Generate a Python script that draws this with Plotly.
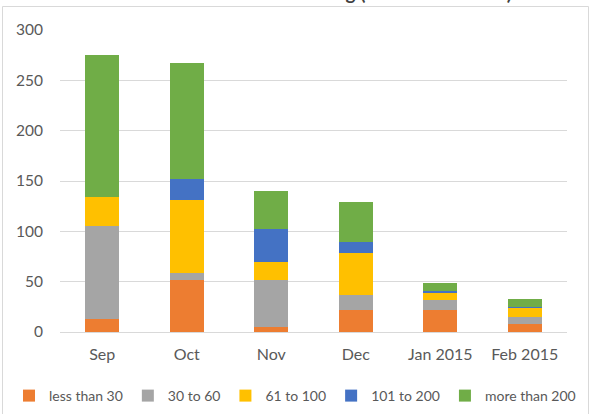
import plotly.graph_objects as go

months = ["Sep", "Oct", "Nov", "Dec", "Jan 2015", "Feb 2015"]
less_than_30 = [13, 52, 5, 22, 22, 8]
from_30_to_60 = [92, 7, 47, 15, 10, 7]
from_61_to_100 = [29, 72, 18, 41, 7, 9]
from_101_to_200 = [0, 21, 32, 11, 2, 1]
more_than_200 = [141, 115, 38, 40, 8, 8]

series = [
    ("less than 30", less_than_30, "#ED7D31"),
    ("30 to 60", from_30_to_60, "#A5A5A5"),
    ("61 to 100", from_61_to_100, "#FFC000"),
    ("101 to 200", from_101_to_200, "#4472C4"),
    ("more than 200", more_than_200, "#70AD47"),
]

FONT = "Lato"
TXT = "#595959"

fig = go.Figure()
for name, vals, col in series:
    fig.add_trace(go.Bar(x=months, y=vals, name=name, marker_color=col,
                         marker_line_width=0))

W, H = 589, 414
L, R, T, B = 60, 22, 30, 82
pw, ph = W - L - R, H - T - B

def px_x(p):
    return (p - L) / pw

def px_y(p):
    return (H - B - p) / ph

fig.update_layout(
    width=W, height=H,
    margin=dict(l=L, r=R, t=T, b=B, autoexpand=False),
    barmode="stack", bargap=0.6,
    plot_bgcolor="white", paper_bgcolor="white",
    font=dict(family=FONT, size=15, color=TXT),
    showlegend=True,
    legend=dict(orientation="h", x=px_x(9), xanchor="left",
                y=px_y(396), yanchor="middle",
                font=dict(size=14, color=TXT), traceorder="normal",
                itemwidth=30, tracegroupgap=0, borderwidth=0),
    xaxis=dict(showgrid=False, showline=False, zeroline=False, ticks="",
               tickfont=dict(size=16, color=TXT), ticklabelstandoff=11),
    yaxis=dict(range=[0, 300], tickvals=[0, 50, 100, 150, 200, 250, 300],
               showgrid=True, gridcolor="#D9D9D9", gridwidth=1,
               zeroline=True, zerolinecolor="#D9D9D9", zerolinewidth=1,
               showline=False, ticks="", ticklabelstandoff=16,
               tickfont=dict(size=15.5, color=TXT)),
    shapes=[dict(type="rect", xref="paper", yref="paper",
                 x0=px_x(2.5), x1=px_x(588.5), y0=px_y(418), y1=px_y(6.5),
                 line=dict(color="#D9D9D9", width=1), fillcolor="rgba(0,0,0,0)",
                 layer="below")],
    annotations=[dict(text="<b>Number of Items Outstanding (Number of Items)</b>",
                      xref="paper", yref="paper", x=px_x(514), y=px_y(5.5),
                      xanchor="right", yanchor="bottom", showarrow=False,
                      font=dict(size=19, color="#404040", family=FONT))],
)

fig.write_html("out.html", config={"displayModeBar": False},
               post_script="document.body.style.margin='0';")
